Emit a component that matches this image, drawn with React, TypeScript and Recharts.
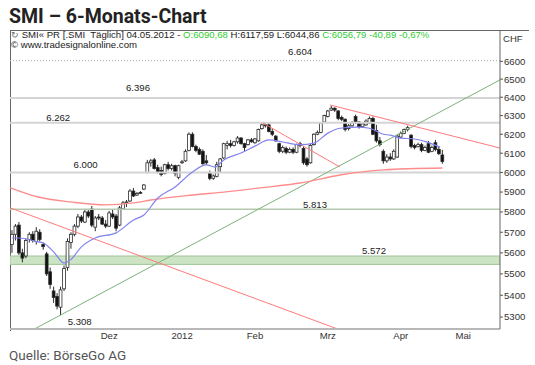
import React from "react";
import {
  ComposedChart,
  Bar,
  Line,
  XAxis,
  YAxis,
  ReferenceLine,
  ReferenceArea,
  ReferenceDot,
} from "recharts";

// ---- daily candles (trading-day index 0 = early Nov 2011, last = 04.05.2012)
const opens = [
  5640, 5690, 5735, 5600, 5585, 5665, 5690, 5655, 5700, 5640, 5595, 5510, 5420, 5395, 5345, 5430, 5530, 5650,
  5690, 5730, 5775, 5750, 5800, 5815, 5725, 5775, 5770, 5740, 5730, 5790, 5780, 5735, 5815, 5845, 5855, 5905, 5885, 5898, 5915,
  6000, 6050, 6065, 6025, 6010, 5995, 6040, 6020, 6035, 5975, 6050, 6060, 6115, 6200, 6135, 6120, 6110, 6060, 5995, 5970, 5980,
  6030, 6075, 6140, 6150, 6140, 6160, 6180, 6150, 6145, 6170, 6155, 6165, 6230, 6250, 6250, 6215, 6190, 6150, 6110, 6125, 6105,
  6120, 6105, 6140, 6125, 6070, 6050, 6145, 6200, 6210, 6265, 6295, 6330, 6340, 6325, 6290, 6280, 6230, 6245, 6295, 6265, 6240, 6250,
  6260, 6285, 6220, 6165, 6110, 6060, 6080, 6070, 6080, 6185, 6205, 6225, 6195, 6140, 6135, 6145, 6115, 6150, 6110,
  6155, 6120, 6090.68,
];
const highs = [
  5710, 5740, 5750, 5620, 5670, 5700, 5705, 5725, 5715, 5650, 5605, 5530, 5440, 5410, 5440, 5540, 5670, 5700,
  5740, 5790, 5785, 5810, 5815, 5830, 5780, 5790, 5780, 5760, 5805, 5810, 5790, 5830, 5855, 5860, 5915, 5920, 5900, 5905, 5940,
  6065, 6070, 6075, 6040, 6030, 6045, 6055, 6045, 6040, 6040, 6065, 6120, 6210, 6210, 6145, 6130, 6120, 6090, 6010, 5990, 6055,
  6075, 6155, 6165, 6170, 6165, 6190, 6185, 6155, 6175, 6180, 6180, 6230, 6262, 6262, 6258, 6230, 6195, 6155, 6140, 6135, 6130,
  6130, 6150, 6160, 6135, 6080, 6150, 6205, 6220, 6265, 6305, 6330, 6352, 6345, 6330, 6300, 6285, 6255, 6270, 6305, 6270, 6260, 6280,
  6295, 6295, 6250, 6185, 6120, 6095, 6100, 6120, 6200, 6215, 6230, 6245, 6200, 6150, 6155, 6155, 6140, 6165, 6140,
  6170, 6135, 6117.59,
];
const lows = [
  5600, 5660, 5590, 5555, 5575, 5650, 5650, 5640, 5655, 5615, 5490, 5430, 5365, 5335, 5308, 5420, 5515, 5620,
  5680, 5720, 5745, 5745, 5770, 5725, 5705, 5760, 5735, 5720, 5725, 5765, 5705, 5730, 5810, 5825, 5850, 5875, 5880, 5890, 5910,
  5995, 6030, 6015, 5995, 5980, 5990, 6010, 6010, 5980, 5965, 6045, 6055, 6110, 6130, 6105, 6090, 6040, 6040, 5960, 5962, 5975,
  6000, 6070, 6120, 6130, 6135, 6150, 6145, 6110, 6140, 6155, 6150, 6160, 6225, 6235, 6210, 6190, 6160, 6100, 6100, 6095, 6100,
  6095, 6100, 6130, 6040, 6030, 6045, 6140, 6195, 6205, 6260, 6290, 6325, 6320, 6275, 6270, 6215, 6220, 6240, 6255, 6230, 6235, 6245,
  6255, 6195, 6155, 6135, 6045, 6050, 6060, 6065, 6075, 6180, 6200, 6215, 6125, 6120, 6130, 6105, 6110, 6100, 6105,
  6110, 6090, 6044.86,
];
const closes = [
  5690, 5730, 5600, 5575, 5660, 5690, 5660, 5705, 5665, 5630, 5500, 5450, 5390, 5350, 5425, 5525, 5655, 5690,
  5730, 5775, 5755, 5800, 5780, 5735, 5770, 5770, 5740, 5730, 5795, 5775, 5720, 5820, 5845, 5850, 5905, 5880, 5893, 5895, 5936,
  6050, 6060, 6020, 6000, 5990, 6040, 6020, 6035, 5995, 6035, 6055, 6110, 6200, 6135, 6115, 6095, 6045, 6050, 5970, 5982, 6040,
  6070, 6150, 6150, 6140, 6160, 6180, 6150, 6130, 6170, 6160, 6175, 6225, 6250, 6245, 6215, 6200, 6165, 6110, 6130, 6105, 6120,
  6105, 6145, 6150, 6050, 6040, 6140, 6200, 6210, 6260, 6300, 6325, 6340, 6330, 6285, 6280, 6225, 6245, 6260, 6265, 6240, 6255, 6270,
  6285, 6200, 6165, 6145, 6060, 6080, 6070, 6110, 6190, 6205, 6225, 6235, 6135, 6130, 6145, 6115, 6130, 6105, 6130,
  6120, 6097.68, 6056.79,
];

// ---- moving averages: [trading-day index, value]
const blueMA: [number, number][] = [
  [0, 5672], [2, 5672], [7.5, 5653], [9, 5648], [12, 5605], [15, 5552], [17, 5569], [20, 5629], [24, 5672],
  [30, 5697], [35, 5760], [38, 5785], [42, 5870], [47, 5926], [52, 6003], [56, 6039], [58.5, 6028], [61, 6065],
  [66, 6101], [70, 6137], [74, 6170], [78, 6159], [83, 6145], [87, 6153], [91, 6206], [94.5, 6232], [99.5, 6238],
  [103, 6232], [107, 6200], [109, 6195], [112, 6179], [115.5, 6176], [119.6, 6158], [123.3, 6132],
];
const redMA: [number, number][] = [
  [-0.5, 5921], [7.5, 5875], [17, 5850], [27, 5835], [35, 5845], [40, 5860], [52, 5885], [61, 5900],
  [71.5, 5921], [83, 5946], [94.5, 5987], [107, 6013], [124, 6023],
];

// ---- trend lines: [[x1, y1], [x2, y2]] in (trading-day index, CHF)
const redTrends: [[number, number], [number, number]][] = [
  [[-0.58, 5821], [94.5, 5242]],
  [[72.3, 6260], [94.5, 6028]],
  [[91.6, 6358], [140.6, 6127]],
];
const greenTrend: [[number, number], [number, number]] = [[6.0, 5242], [140.6, 6496]];

// ---- horizontal levels
const dottedLevel = 6604;
const grayLevels = [6396, 6262, 6000];
const greenLevel = 5813;
const supportBand = [5545, 5585];
const levelLabels: { x: number; y: number; text: string; pos: "top" | "bottom"; off: number }[] = [
  { x: 83, y: 6604, text: "6.604", pos: "top", off: 6 },
  { x: 36.3, y: 6396, text: "6.396", pos: "top", off: 7 },
  { x: 13.3, y: 6262, text: "6.262", pos: "top", off: 1.5 },
  { x: 21.2, y: 6000, text: "6.000", pos: "top", off: 4 },
  { x: 87.3, y: 5813, text: "5.813", pos: "top", off: 1.5 },
  { x: 104.3, y: 5585, text: "5.572", pos: "top", off: 2 },
  { x: 19.5, y: 5308, text: "5.308", pos: "bottom", off: 3 },
];

// ---- axes
const yTicks = [5300, 5400, 5500, 5600, 5700, 5800, 5900, 6000, 6100, 6200, 6300, 6400, 6500, 6600];
const monthBounds = [17.5, 38.5, 59.5, 80.5, 102.5, 121.5];
const monthLabelPos = [28, 49, 70, 91, 112, 130];
const monthLabels = ["Dez", "2012", "Feb", "Mrz", "Apr", "Mai"];

const xDomain: [number, number] = [-0.58, 140.6];
const yDomain: [number, number] = [5246, 6780];

const candles = opens.map((o, i) => ({
  i,
  o,
  h: highs[i],
  l: lows[i],
  c: closes[i],
  range: [lows[i], highs[i]],
}));
const blueData = blueMA.map(([i, v]) => ({ i, v }));
const redData = redMA.map(([i, v]) => ({ i, v }));

const FONT = '"Liberation Sans", Arial, sans-serif';
const FS = 9.6;

function Candle(props: any) {
  const { x, y, width, height, payload } = props;
  if (!payload || y == null || height == null) return null;
  const { o, h, l, c } = payload;
  const top = Math.min(y, y + height);
  const hgt = Math.abs(height);
  const lnH = Math.log(h);
  const span = lnH - Math.log(l);
  const py = (v: number) => (span > 0 ? top + ((lnH - Math.log(v)) / span) * hgt : top);
  const cx = x + width / 2;
  const up = c >= o;
  const bTop = py(Math.max(o, c));
  const bBot = py(Math.min(o, c));
  const bh = Math.max(bBot - bTop, 0.8);
  const col = "#2b2b2b";
  return (
    <g>
      <line x1={cx} x2={cx} y1={top} y2={top + hgt} stroke={col} strokeWidth={1} />
      <rect
        x={cx - 1.4}
        y={bTop}
        width={2.8}
        height={bh}
        fill={up ? "#ffffff" : "#111111"}
        stroke={col}
        strokeWidth={0.8}
      />
    </g>
  );
}

export default function App() {
  return (
    <div
      style={{
        position: "absolute",
        left: 0,
        top: 0,
        width: 535,
        height: 365,
        background: "#fff",
        overflow: "hidden",
        fontFamily: FONT,
      }}
    >
      <div
        style={{
          position: "absolute",
          left: 9,
          top: 4.5,
          fontFamily: "Roboto, sans-serif",
          fontWeight: 700,
          fontSize: 19.5,
          lineHeight: "24px",
          color: "#222",
          whiteSpace: "nowrap",
        }}
      >
        SMI – 6-Monats-Chart
      </div>

      <div
        style={{
          position: "absolute",
          left: 10,
          top: 29.5,
          width: 518,
          height: 300,
          borderTop: "1px solid #666",
          borderLeft: "1px solid #666",
        }}
      />

      <ComposedChart
        width={535}
        height={365}
        data={candles}
        margin={{ top: 30, right: 0, bottom: 0, left: 10 }}
        style={{ position: "absolute", left: 0, top: 0 }}
      >
        <XAxis
          xAxisId="a"
          dataKey="i"
          type="number"
          domain={xDomain}
          allowDataOverflow
          ticks={monthBounds}
          tick={false}
          tickSize={3}
          tickLine={{ stroke: "#888" }}
          axisLine={{ stroke: "#b8b8b8", strokeWidth: 2 }}
          height={1}
        />
        <XAxis
          xAxisId="b"
          dataKey="i"
          type="number"
          domain={xDomain}
          allowDataOverflow
          ticks={monthLabelPos}
          interval={0}
          tickFormatter={(v: number) => monthLabels[monthLabelPos.indexOf(v)] ?? ""}
          tick={{ fontSize: FS, fill: "#333", fontFamily: FONT }}
          tickLine={false}
          axisLine={false}
          tickSize={0}
          tickMargin={2.5}
          height={35}
        />
        <YAxis
          orientation="right"
          type="number"
          scale="log"
          domain={yDomain}
          allowDataOverflow
          ticks={yTicks}
          interval={0}
          width={35}
          tickSize={3}
          tickMargin={1}
          tickLine={{ stroke: "#555" }}
          axisLine={{ stroke: "#666" }}
          tick={{ fontSize: FS, fill: "#333", fontFamily: FONT }}
        />

        <ReferenceArea
          xAxisId="a"
          y1={supportBand[0]}
          y2={supportBand[1]}
          fill="#cce4c4"
          fillOpacity={1}
          stroke="#9fc596"
          ifOverflow="hidden"
        />
        <ReferenceLine xAxisId="a" y={dottedLevel} stroke="#aaaaaa" strokeDasharray="1 2" />
        {grayLevels.map((v) => (
          <ReferenceLine key={v} xAxisId="a" y={v} stroke="#d4d4d4" strokeWidth={2} />
        ))}
        <ReferenceLine xAxisId="a" y={greenLevel} stroke="#b4c9ae" strokeWidth={1.5} />

        <ReferenceLine
          xAxisId="a"
          segment={[
            { x: greenTrend[0][0], y: greenTrend[0][1] },
            { x: greenTrend[1][0], y: greenTrend[1][1] },
          ]}
          stroke="#7cb27c"
          strokeWidth={1}
          ifOverflow="hidden"
        />
        {redTrends.map((s, k) => (
          <ReferenceLine
            key={k}
            xAxisId="a"
            segment={[
              { x: s[0][0], y: s[0][1] },
              { x: s[1][0], y: s[1][1] },
            ]}
            stroke="#ff7a7a"
            strokeWidth={1}
            ifOverflow="hidden"
          />
        ))}

        <Line
          xAxisId="a"
          data={redData}
          dataKey="v"
          type="monotone"
          stroke="#ff8c8c"
          strokeWidth={1.3}
          dot={false}
          activeDot={false}
          isAnimationActive={false}
        />
        <Line
          xAxisId="a"
          data={blueData}
          dataKey="v"
          type="monotone"
          stroke="#8282f0"
          strokeWidth={1.2}
          dot={false}
          activeDot={false}
          isAnimationActive={false}
        />

        <Bar
          xAxisId="a"
          dataKey="range"
          barSize={3}
          shape={(p: any) => <Candle {...p} />}
          isAnimationActive={false}
        />

        {levelLabels.map((lb) => (
          <ReferenceDot
            key={lb.text}
            xAxisId="a"
            x={lb.x}
            y={lb.y}
            r={0}
            fill="none"
            stroke="none"
            label={{
              value: lb.text,
              position: lb.pos,
              offset: lb.off,
              fill: "#222",
              fontSize: FS,
              fontFamily: FONT,
            }}
          />
        ))}
      </ComposedChart>

      <div
        style={{
          position: "absolute",
          left: 11,
          top: 29.5,
          fontSize: FS,
          lineHeight: "10.5px",
          color: "#222",
          whiteSpace: "nowrap",
          fontFamily: FONT,
        }}
      >
        <div>
          <span style={{ color: "#666", fontSize: 8.5 }}>↻</span> SMI« PR [.SMI&nbsp; Täglich] 04.05.2012 -{" "}
          <span style={{ color: "#33cc33" }}>O:6090,68</span> H:6117,59 L:6044,86{" "}
          <span style={{ color: "#33cc33" }}>C:6056,79 -40,89 -0,67%</span>
        </div>
        <div>© www.tradesignalonline.com</div>
      </div>

      <div
        style={{
          position: "absolute",
          left: 503,
          top: 32.5,
          fontSize: FS,
          lineHeight: "11px",
          color: "#333",
          fontFamily: FONT,
        }}
      >
        CHF
      </div>

      <div
        style={{
          position: "absolute",
          left: 9,
          top: 347,
          fontFamily: "Roboto, sans-serif",
          fontSize: 13.5,
          lineHeight: "16px",
          color: "#555",
          whiteSpace: "nowrap",
        }}
      >
        Quelle: BörseGo AG
      </div>
    </div>
  );
}
